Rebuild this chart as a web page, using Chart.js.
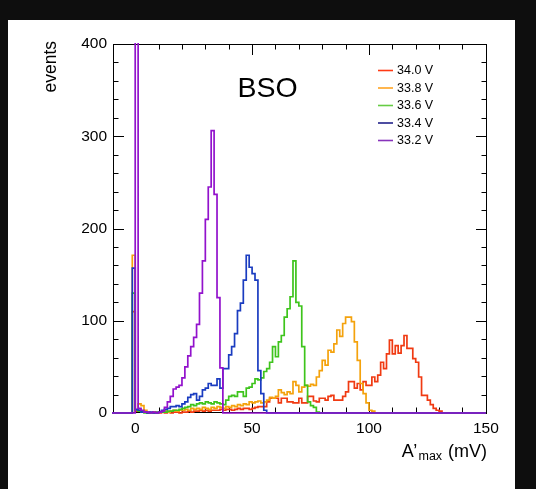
<!DOCTYPE html>
<html><head><meta charset="utf-8">
<script src="https://cdn.jsdelivr.net/npm/chart.js@4.4.1/dist/chart.umd.min.js"></script>
<style>html,body{margin:0;padding:0;background:#fff;overflow:hidden}#wrap{position:absolute;left:0;top:0;width:536px;height:489px}</style>
</head><body><div id="wrap"><canvas id="c" width="536" height="489"></canvas></div>
<script>
// histogram binning (mV)
const BIN_MIN = -10, BIN_MAX = 150, BIN_W = 1.25, FIRST_EDGE = -1.25;
const seriesLabels = ['34.0 V', '33.8 V', '33.6 V', '33.4 V', '33.2 V'];
const xTickValues = [0, 50, 100, 150];
const yTickValues = [0, 100, 200, 300, 400];

// counts per bin, first bin starts at FIRST_EDGE
const counts340 = [110,2,3,2,1,0,0,1,0, 0,1,0,1,0,1,1,0, 1,1,2,1,2,2,3,2, 3,2,3,3,3,4,3,4,
  4,3,4,5,4,5,5,4, 5,6,7,7,7,12,16,16, 16,11,16,16,12,12,11,11, 16,11,11,18,18,13,12,16,
  16,14,18,19,14,14,14,18, 23,34,34,27,32,25,34,30, 30,39,34,41,55,48,64,79,
  64,73,65,73,84,70,70,59, 55,39,19,19,14,9,5,3, 2,0];
const counts338 = [171,3,10,8,3,1,0,1,0, 1,1,2,1,2,3,2,3, 3,4,3,5,4,5,4,6, 5,4,6,5,7,6,5,7,
  6,8,7,9,8,10,9,12, 11,12,13,11,12,14,17,16, 18,25,22,20,23,21,34,30, 23,28,30,29,31,30,39,46,
  57,52,68,66,75,90,83,97, 104,104,99,77,57,32,21,11, 3,2,0];
const counts336 = [130,3,2,1,0,1,0,0,1, 1,1,1,2,2,3,3,4, 5,6,7,9,8,10,11,10, 12,11,10,12,11,10,9,14,
  18,19,18,23,23,18,27,28, 32,37,36,38,45,48,55,72, 61,77,84,104,113,126,165,120,
  116,72,30,12,8,6,1,0];
const counts334 = [157,4,3,1,1,0,1,0,0, 1,3,4,5,7,7,8,7, 10,12,17,20,21,14,18,25,
  27,32,30,30,37,27,48,48, 63,72,86,111,119,144,171,158, 151,144,46,21,3,0];
const counts332 = [0,900,5,3,1,1,0,1,0, 1,2,6,12,18,26,28,30, 38,50,62,72,82,96,130,165,
  210,245,306,237,125,49,0,0];

const lineColors = ['#f03a12', '#f4a20c', '#3ec41c', '#1a3cc0', '#9212cc'];
const legendColors = ['#ff3a14', '#ffa424', '#66cc44', '#22228a', '#8833bb'];
const allCounts = [counts340, counts338, counts336, counts334, counts332];

function histPoints(arr) {
  const pts = [];
  const n = Math.round((BIN_MAX - BIN_MIN) / BIN_W);
  for (let k = 0; k < n; k++) {
    const e = BIN_MIN + k * BIN_W;
    const i = Math.round((e - FIRST_EDGE) / BIN_W);
    const v = (i >= 0 && i < arr.length) ? arr[i] : 0;
    pts.push({x: e, y: v});
  }
  pts.push({x: BIN_MAX, y: 0});
  return pts;
}

const FONT = '"Liberation Sans", Arial, Helvetica, sans-serif';

const decor = {
  id: 'decor',
  beforeDraw(chart) {
    const ctx = chart.ctx;
    ctx.save();
    ctx.fillStyle = '#ffffff';
    ctx.fillRect(0, 0, 536, 489);
    ctx.fillStyle = '#0e0e0e';
    ctx.fillRect(0, 0, 536, 20);
    ctx.fillRect(0, 0, 8, 489);
    ctx.fillRect(515, 0, 21, 489);
    ctx.restore();
  },
  beforeDatasetsDraw(chart) {
    const ctx = chart.ctx, a = chart.chartArea;
    const xs = chart.scales.x, ys = chart.scales.y;
    ctx.save();
    ctx.strokeStyle = '#000';
    ctx.lineWidth = 1;
    ctx.strokeRect(Math.round(a.left) + 0.5, Math.round(a.top) + 0.5, Math.round(a.right - a.left) - 1, Math.round(a.bottom - a.top) - 1);
    ctx.beginPath();
    for (let v = 0; v <= 150; v += 10) {
      const px = Math.round(xs.getPixelForValue(v)) + 0.5;
      const L = (v % 50 === 0) ? 11 : 5.5;
      ctx.moveTo(px, a.bottom); ctx.lineTo(px, a.bottom - L);
      ctx.moveTo(px, a.top); ctx.lineTo(px, a.top + L);
    }
    for (let v = 0; v <= 400; v += 20) {
      const py = Math.round(ys.getPixelForValue(v)) + 0.5;
      const L = (v % 100 === 0) ? 11 : 5.5;
      ctx.moveTo(a.left, py); ctx.lineTo(a.left + L, py);
      ctx.moveTo(a.right, py); ctx.lineTo(a.right - L, py);
    }
    ctx.stroke();
    ctx.restore();
  },
  afterDraw(chart) {
    const ctx = chart.ctx;
    ctx.save();
    ctx.fillStyle = '#000';
    // BSO
    ctx.font = '28.5px ' + FONT;
    ctx.textAlign = 'left'; ctx.textBaseline = 'alphabetic';
    ctx.fillText('BSO', 237.5, 97);
    // legend
    ctx.font = '12.5px ' + FONT;
    ctx.textBaseline = 'middle';
    for (let i = 0; i < seriesLabels.length; i++) {
      const y = 70.5 + 17.5 * i;
      ctx.strokeStyle = legendColors[i];
      ctx.lineWidth = 1.6;
      ctx.beginPath(); ctx.moveTo(378, y); ctx.lineTo(393, y); ctx.stroke();
      ctx.fillStyle = '#000';
      ctx.fillText(seriesLabels[i], 397, y + 0.5);
    }
    // y title
    ctx.save();
    ctx.translate(56, 41);
    ctx.rotate(-Math.PI / 2);
    ctx.font = '17.5px ' + FONT;
    ctx.textAlign = 'right'; ctx.textBaseline = 'alphabetic';
    ctx.fillText('events', 0, 0);
    ctx.restore();
    // x title A'_max (mV)
    ctx.textBaseline = 'alphabetic'; ctx.textAlign = 'left';
    ctx.font = '18px ' + FONT;
    ctx.fillText('A', 401.7, 457);
    ctx.fillText('\u2019', 413.3, 457);
    ctx.font = '12.5px ' + FONT;
    ctx.fillText('max', 418.5, 459.5);
    ctx.font = '18px ' + FONT;
    ctx.fillText('(mV)', 448, 457);
    ctx.restore();
  }
};

const datasets = allCounts.map((arr, i) => ({
  label: seriesLabels[i],
  data: histPoints(arr),
  borderColor: lineColors[i],
  borderWidth: 1.7,
  pointRadius: 0,
  fill: false,
  stepped: true,
  tension: 0,
  clip: 1,
  order: 4 - i
}));

new Chart(document.getElementById('c'), {
  type: 'line',
  data: {datasets},
  plugins: [decor],
  options: {
    responsive: false,
    animation: false,
    devicePixelRatio: 1,
    layout: {padding: {top: 44, right: 49, left: 0, bottom: 0}},
    plugins: {legend: {display: false}, tooltip: {enabled: false}},
    scales: {
      x: {
        type: 'linear', min: -9.5, max: 150.5,
        afterBuildTicks: s => { s.ticks = xTickValues.map(v => ({value: v})); },
        afterFit: s => { s.height = 76; },
        grid: {display: false, drawTicks: false},
        border: {display: false},
        ticks: {color: '#000', padding: 6, maxRotation: 0, autoSkip: false, font: {family: FONT, size: 15.5}}
      },
      y: {
        type: 'linear', min: 0, max: 400,
        afterBuildTicks: s => { s.ticks = yTickValues.map(v => ({value: v})); },
        afterFit: s => { s.width = 113; },
        grid: {display: false, drawTicks: false},
        border: {display: false},
        ticks: {color: '#000', padding: 6, autoSkip: false, font: {family: FONT, size: 15.5}}
      }
    }
  }
});
</script>
</body></html>
